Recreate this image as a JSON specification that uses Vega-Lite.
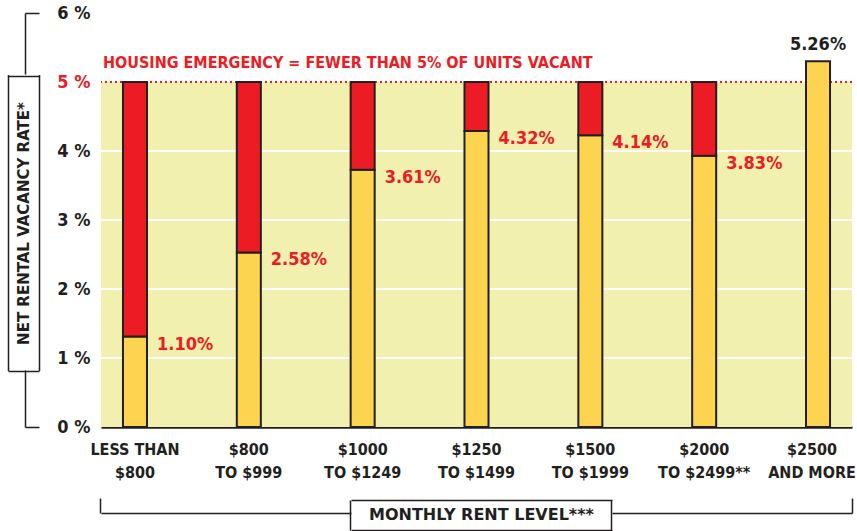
{
  "$schema": "https://vega.github.io/schema/vega-lite/v6.json",
  "width": 751,
  "height": 414,
  "autosize": {"type": "none"},
  "padding": {"left": 101, "top": 13, "right": 5, "bottom": 104},
  "background": "white",
  "config": {"view": {"stroke": null}},
  "data": {
    "values": [
      {"level": "LESS THAN|$800", "rate": 1.31, "lbl": "1.10%"},
      {"level": "$800|TO $999", "rate": 2.53, "lbl": "2.58%"},
      {"level": "$1000|TO $1249", "rate": 3.73, "lbl": "3.61%"},
      {"level": "$1250|TO $1499", "rate": 4.29, "lbl": "4.32%"},
      {"level": "$1500|TO $1999", "rate": 4.23, "lbl": "4.14%"},
      {"level": "$2000|TO $2499**", "rate": 3.93, "lbl": "3.83%"},
      {"level": "$2500|AND MORE", "rate": 5.3, "lbl": "5.26%"}
    ]
  },
  "layer": [
    {
      "data": {"values": [{}]},
      "mark": {"type": "rect", "fill": "#F2F0AE"},
      "encoding": {
        "y": {"datum": 0, "type": "quantitative", "axis": null, "scale": {"domain": [0, 6], "nice": false}},
        "y2": {"datum": 5}
      }
    },
    {
      "data": {"values": [{"g": 1}, {"g": 2}, {"g": 3}, {"g": 4}]},
      "mark": {"type": "rule", "stroke": "white", "strokeWidth": 2},
      "encoding": {
        "y": {
          "field": "g", "type": "quantitative",
          "axis": {
            "orient": "left", "offset": 62, "labels": false, "values": [0.817, 5.088],
            "tickSize": 31, "tickWidth": 1.5, "tickColor": "#231F20",
            "domainColor": "#231F20", "domainWidth": 1.5, "domainDash": [0, 56.6, 296, 1000],
            "grid": false, "title": null
          }
        }
      }
    },
    {
      "data": {"values": [{}]},
      "mark": {"type": "rule", "stroke": "#ED1C24", "strokeWidth": 2, "strokeDash": [2, 3]},
      "encoding": {
        "y": {
          "datum": 5, "type": "quantitative",
          "axis": {
            "orient": "left", "offset": 93, "labels": false, "ticks": false,
            "domainColor": "#231F20", "domainWidth": 1.5, "domainDash": [0, 56.6, 296, 1000],
            "grid": false, "title": null
          }
        }
      }
    },
    {
      "mark": {"type": "bar", "fill": "#FDD450", "stroke": "#231F20", "strokeWidth": 2},
      "encoding": {
        "x": {
          "field": "level", "type": "nominal", "sort": null,
          "scale": {"paddingInner": 0.789, "paddingOuter": 0.193},
          "axis": {
            "orient": "bottom", "title": null, "ticks": false,
            "domainColor": "#231F20", "domainWidth": 2.5,
            "labelAngle": 0, "labelPadding": 14,
            "labelFont": "DejaVu Sans Condensed, Roboto", "labelFontSize": 16, "labelFontWeight": "bold",
            "labelColor": "#231F20", "labelLineHeight": 23,
            "labelOffset": {"condition": {"test": "datum.value == '$2500|AND MORE'", "value": -6}, "value": 0},
            "labelExpr": "split(datum.label, '|')"
          }
        },
        "y": {
          "field": "rate", "type": "quantitative",
          "scale": {"domain": [0, 6], "nice": false},
          "axis": {
            "orient": "left", "values": [0, 1, 2, 3, 4, 5, 6],
            "domain": false, "ticks": false, "grid": false,
            "labelPadding": 11, "labelExpr": "datum.value + ' %'",
            "labelFont": "DejaVu Sans Condensed, Roboto", "labelFontSize": 18, "labelFontWeight": "bold",
            "labelColor": {"condition": {"test": "datum.value == 5", "value": "#ED1C24"}, "value": "#231F20"},
            "title": "NET RENTAL VACANCY RATE*",
            "titleFont": "DejaVu Sans", "titleFontSize": 15, "titleFontWeight": "bold", "titleColor": "#231F20",
            "titleX": -78, "titleY": 210, "titleAngle": -90, "titleAlign": "center", "titleBaseline": "middle"
          }
        }
      }
    },
    {
      "transform": [{"filter": "datum.rate < 5"}],
      "mark": {"type": "bar", "fill": "#ED1C24", "stroke": "#231F20", "strokeWidth": 2},
      "encoding": {
        "x": {
          "field": "level", "type": "nominal", "sort": null,
          "axis": {
            "orient": "bottom", "offset": 86, "labels": false,
            "values": ["$2500|AND MORE"], "bandPosition": 1.92,
            "tickSize": -15, "tickWidth": 1.5, "tickColor": "#231F20",
            "domainColor": "#231F20", "domainWidth": 1.5, "domainDash": [250, 261, 300, 100],
            "title": "MONTHLY RENT LEVEL***",
            "titleFont": "DejaVu Sans", "titleFontSize": 16, "titleFontWeight": "bold", "titleColor": "#231F20",
            "titleX": 380, "titleY": 1, "titleAlign": "center", "titleBaseline": "middle"
          }
        },
        "y": {
          "field": "rate", "type": "quantitative",
          "axis": {
            "orient": "left", "offset": 76, "labels": false, "values": [0, 6],
            "tickSize": -14, "tickWidth": 1.5, "tickColor": "#231F20",
            "domainColor": "#231F20", "domainWidth": 1.5, "domainDash": [57, 296, 70, 100],
            "grid": false, "title": null
          }
        },
        "y2": {"datum": 5}
      }
    },
    {
      "transform": [{"filter": "datum.rate < 5"}],
      "mark": {"type": "text", "align": "left", "baseline": "middle", "dx": 22, "dy": 8,
               "fill": "#ED1C24", "font": "DejaVu Sans Condensed, Roboto", "fontSize": 18, "fontWeight": "bold"},
      "encoding": {
        "x": {
          "field": "level", "type": "nominal", "sort": null,
          "axis": {
            "orient": "bottom", "offset": 73, "labels": false,
            "values": ["$1000|TO $1249"], "bandPosition": 0,
            "tickSize": 30, "tickWidth": 1.5, "tickColor": "#231F20",
            "domainColor": "#231F20", "domainWidth": 1.5, "domainDash": [0, 250, 261, 1000],
            "grid": false, "title": null
          }
        },
        "y": {"field": "rate", "type": "quantitative", "axis": null},
        "text": {"field": "lbl"}
      }
    },
    {
      "transform": [{"filter": "datum.rate >= 5"}],
      "mark": {"type": "text", "align": "center", "baseline": "alphabetic", "dy": -11,
               "fill": "#231F20", "font": "DejaVu Sans Condensed, Roboto", "fontSize": 18, "fontWeight": "bold"},
      "encoding": {
        "x": {
          "field": "level", "type": "nominal", "sort": null,
          "axis": {
            "orient": "bottom", "offset": 103, "labels": false,
            "values": ["$1500|TO $1999"], "bandPosition": 1.4,
            "tickSize": -30, "tickWidth": 1.5, "tickColor": "#231F20",
            "domainColor": "#231F20", "domainWidth": 1.5, "domainDash": [0, 250, 261, 1000],
            "grid": false, "title": null
          }
        },
        "y": {"field": "rate", "type": "quantitative", "axis": null},
        "text": {"field": "lbl"}
      }
    },
    {
      "data": {"values": [{"t": "HOUSING EMERGENCY = FEWER THAN 5% OF UNITS VACANT"}]},
      "mark": {"type": "text", "align": "left", "baseline": "middle", "dx": -32, "dy": -19,
               "fill": "#ED1C24", "font": "DejaVu Sans Condensed, Roboto", "fontSize": 16, "fontWeight": "bold"},
      "encoding": {
        "x": {
          "datum": "LESS THAN|$800", "type": "nominal",
          "axis": {
            "orient": "bottom", "offset": 86, "labels": false, "domain": false,
            "values": ["LESS THAN|$800"], "bandPosition": -0.917,
            "tickSize": -15, "tickWidth": 1.5, "tickColor": "#231F20",
            "grid": false, "title": null
          }
        },
        "y": {"datum": 5, "type": "quantitative", "axis": null},
        "text": {"field": "t"}
      }
    }
  ],
  "resolve": {"axis": {"x": "independent", "y": "independent"}}
}
